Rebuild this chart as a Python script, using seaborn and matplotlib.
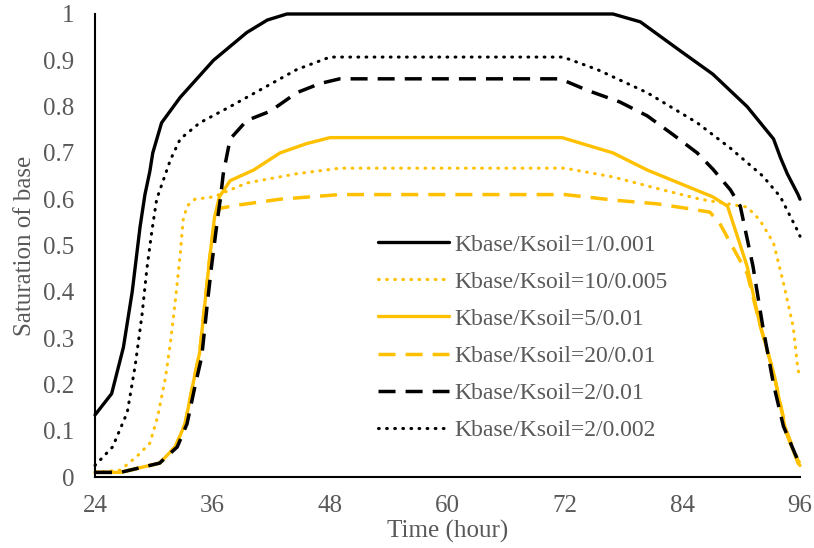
import matplotlib
matplotlib.use("Agg")
import matplotlib.pyplot as plt
import seaborn as sns
import pandas as pd

sns.set_theme(style="white")
plt.rcParams['font.family'] = ['Liberation Serif', 'DejaVu Serif']

GRAY = "#595959"
GOLD = "#FFC000"

# Kbase/Ksoil=1/0.001 (black solid)
x_1_0001 = [24, 25.7, 26.9, 27.8, 28.6, 29.1, 29.6, 29.9, 30.8, 32.7, 36.1, 39.5, 41.6, 43.6, 48, 60, 72, 76.9, 79.7, 83.8, 87.1, 90.6, 93.3, 94, 94.7, 95.8, 96]
y_1_0001 = [0.134, 0.18, 0.28, 0.40, 0.54, 0.61, 0.66, 0.70, 0.765, 0.82, 0.90, 0.96, 0.987, 1.0, 1.0, 1.0, 1.0, 1.0, 0.983, 0.92, 0.87, 0.80, 0.73, 0.69, 0.655, 0.61, 0.60]

# Kbase/Ksoil=10/0.005 (gold dotted)
x_10_0005 = [24, 26.6, 28.3, 29.6, 30.4, 31.2, 31.7, 32.2, 32.7, 33, 33.4, 34.2, 36.1, 39.5, 44.6, 49, 60, 72, 76.9, 82, 85.8, 90.6, 91.9, 93.3, 94.3, 95.3, 95.8, 96]
y_10_0005 = [0.01, 0.015, 0.045, 0.073, 0.13, 0.215, 0.29, 0.38, 0.48, 0.555, 0.585, 0.60, 0.605, 0.635, 0.655, 0.667, 0.667, 0.667, 0.648, 0.62, 0.60, 0.583, 0.555, 0.505, 0.42, 0.325, 0.23, 0.22]

# Kbase/Ksoil=5/0.01 (gold solid)
x_5_001 = [24, 26.6, 30.6, 32.2, 33.2, 34.0, 34.7, 35.3, 35.7, 36.2, 36.7, 37.8, 40.2, 42.9, 45.6, 48, 60, 71.7, 76.9, 80.4, 87.1, 88.6, 90.6, 91.9, 93.3, 94.6, 95.8, 96]
y_5_001 = [0.01, 0.01, 0.03, 0.065, 0.115, 0.20, 0.27, 0.39, 0.47, 0.56, 0.605, 0.64, 0.663, 0.70, 0.72, 0.733, 0.733, 0.733, 0.70, 0.663, 0.605, 0.585, 0.455, 0.33, 0.225, 0.095, 0.03, 0.025]

# Kbase/Ksoil=20/0.01 (gold dashed)
x_20_001 = [24, 26.6, 30.6, 32.2, 33.2, 34.0, 34.7, 35.3, 35.7, 36.2, 36.7, 38.5, 42.9, 49, 60, 72, 77, 81.4, 84.5, 86.8, 87.8, 88.9, 90.6, 91.9, 93.3, 94.6, 95.8, 96]
y_20_001 = [0.01, 0.01, 0.03, 0.065, 0.115, 0.20, 0.27, 0.39, 0.47, 0.55, 0.58, 0.587, 0.60, 0.61, 0.61, 0.61, 0.598, 0.59, 0.58, 0.572, 0.548, 0.505, 0.44, 0.33, 0.225, 0.10, 0.035, 0.03]

# Kbase/Ksoil=2/0.01 (black dashed)
x_2_001 = [24, 26.6, 30.6, 32.4, 33.4, 34.2, 34.9, 35.5, 35.9, 36.5, 36.8, 37.1, 37.8, 39.5, 41.9, 44.6, 47, 49, 60, 71.5, 74.3, 77.6, 80.4, 83, 85.5, 87.1, 88.9, 89.9, 91.2, 92.2, 93.3, 94.3, 95.8, 96]
y_2_001 = [0.01, 0.01, 0.03, 0.065, 0.115, 0.195, 0.26, 0.38, 0.455, 0.555, 0.60, 0.655, 0.73, 0.77, 0.79, 0.83, 0.85, 0.86, 0.86, 0.86, 0.835, 0.81, 0.78, 0.74, 0.70, 0.665, 0.62, 0.585, 0.455, 0.325, 0.20, 0.11, 0.035, 0.03]

# Kbase/Ksoil=2/0.002 (black dotted)
x_2_0002 = [24, 25.8, 27.3, 28.1, 28.8, 29.3, 29.8, 30.3, 31.7, 32.7, 34.7, 37.8, 41.2, 44.6, 48, 60, 71.8, 75.3, 80.4, 85.5, 88.9, 92.2, 94, 95.8, 96]
y_2_0002 = [0.025, 0.065, 0.14, 0.24, 0.35, 0.45, 0.53, 0.60, 0.685, 0.73, 0.765, 0.80, 0.84, 0.88, 0.907, 0.907, 0.907, 0.88, 0.83, 0.765, 0.71, 0.65, 0.605, 0.53, 0.52]

x_ticks = [24, 36, 48, 60, 72, 84, 96]
y_ticks = [0, 0.1, 0.2, 0.3, 0.4, 0.5, 0.6, 0.7, 0.8, 0.9, 1]
y_tick_labels = ["0", "0.1", "0.2", "0.3", "0.4", "0.5", "0.6", "0.7", "0.8", "0.9", "1"]

series = [
    ("Kbase/Ksoil=1/0.001", x_1_0001, y_1_0001, "black", "solid"),
    ("Kbase/Ksoil=10/0.005", x_10_0005, y_10_0005, GOLD, "dotted"),
    ("Kbase/Ksoil=5/0.01", x_5_001, y_5_001, GOLD, "solid"),
    ("Kbase/Ksoil=20/0.01", x_20_001, y_20_001, GOLD, "dashed"),
    ("Kbase/Ksoil=2/0.01", x_2_001, y_2_001, "black", "dashed"),
    ("Kbase/Ksoil=2/0.002", x_2_0002, y_2_0002, "black", "dotted"),
]

fig = plt.figure(figsize=(8.14, 5.48), dpi=100)
ax = fig.add_axes([95/814, 1-477/548, (800-95)/814, (477-14)/548])

for label, xs, ys, color, style in series:
    df = pd.DataFrame({"t": xs, "s": ys})
    kw = dict(color=color, linewidth=2.4, label=label, clip_on=False)
    if style == "dotted":
        kw.update(linestyle=(0, (0.25, 2.4)), dash_capstyle="round", linewidth=2.2)
    elif style == "dashed":
        kw.update(linestyle=(0, (4.9, 2.9)), linewidth=2.5)
    sns.lineplot(data=df, x="t", y="s", sort=False, estimator=None, ax=ax, **kw)

ax.set_xlim(24, 96)
ax.set_ylim(0, 1)
ax.set_xticks(x_ticks)
ax.set_yticks(y_ticks)
ax.set_yticklabels(y_tick_labels)
for s in ["top", "right"]:
    ax.spines[s].set_visible(False)
for s in ["left", "bottom"]:
    ax.spines[s].set_color("black")
    ax.spines[s].set_linewidth(1.5)
ax.tick_params(direction="in", length=5, width=1.3, colors="black",
               labelcolor=GRAY, labelsize=18)
ax.tick_params(axis="y", pad=15)
ax.tick_params(axis="x", pad=13)
ax.set_xlabel("Time (hour)", fontsize=18, color=GRAY, labelpad=2)
ax.set_ylabel("Saturation of base", fontsize=18, color=GRAY, labelpad=5)

leg = ax.legend(loc="upper left", bbox_to_anchor=(378/814, 1-234/548),
                bbox_transform=fig.transFigure, frameon=False, fontsize=17,
                handlelength=3.0, handletextpad=0.25, labelspacing=0.66,
                borderpad=0, borderaxespad=0)
for t in leg.get_texts():
    t.set_color(GRAY)

fig.savefig("out.png", dpi=100)
